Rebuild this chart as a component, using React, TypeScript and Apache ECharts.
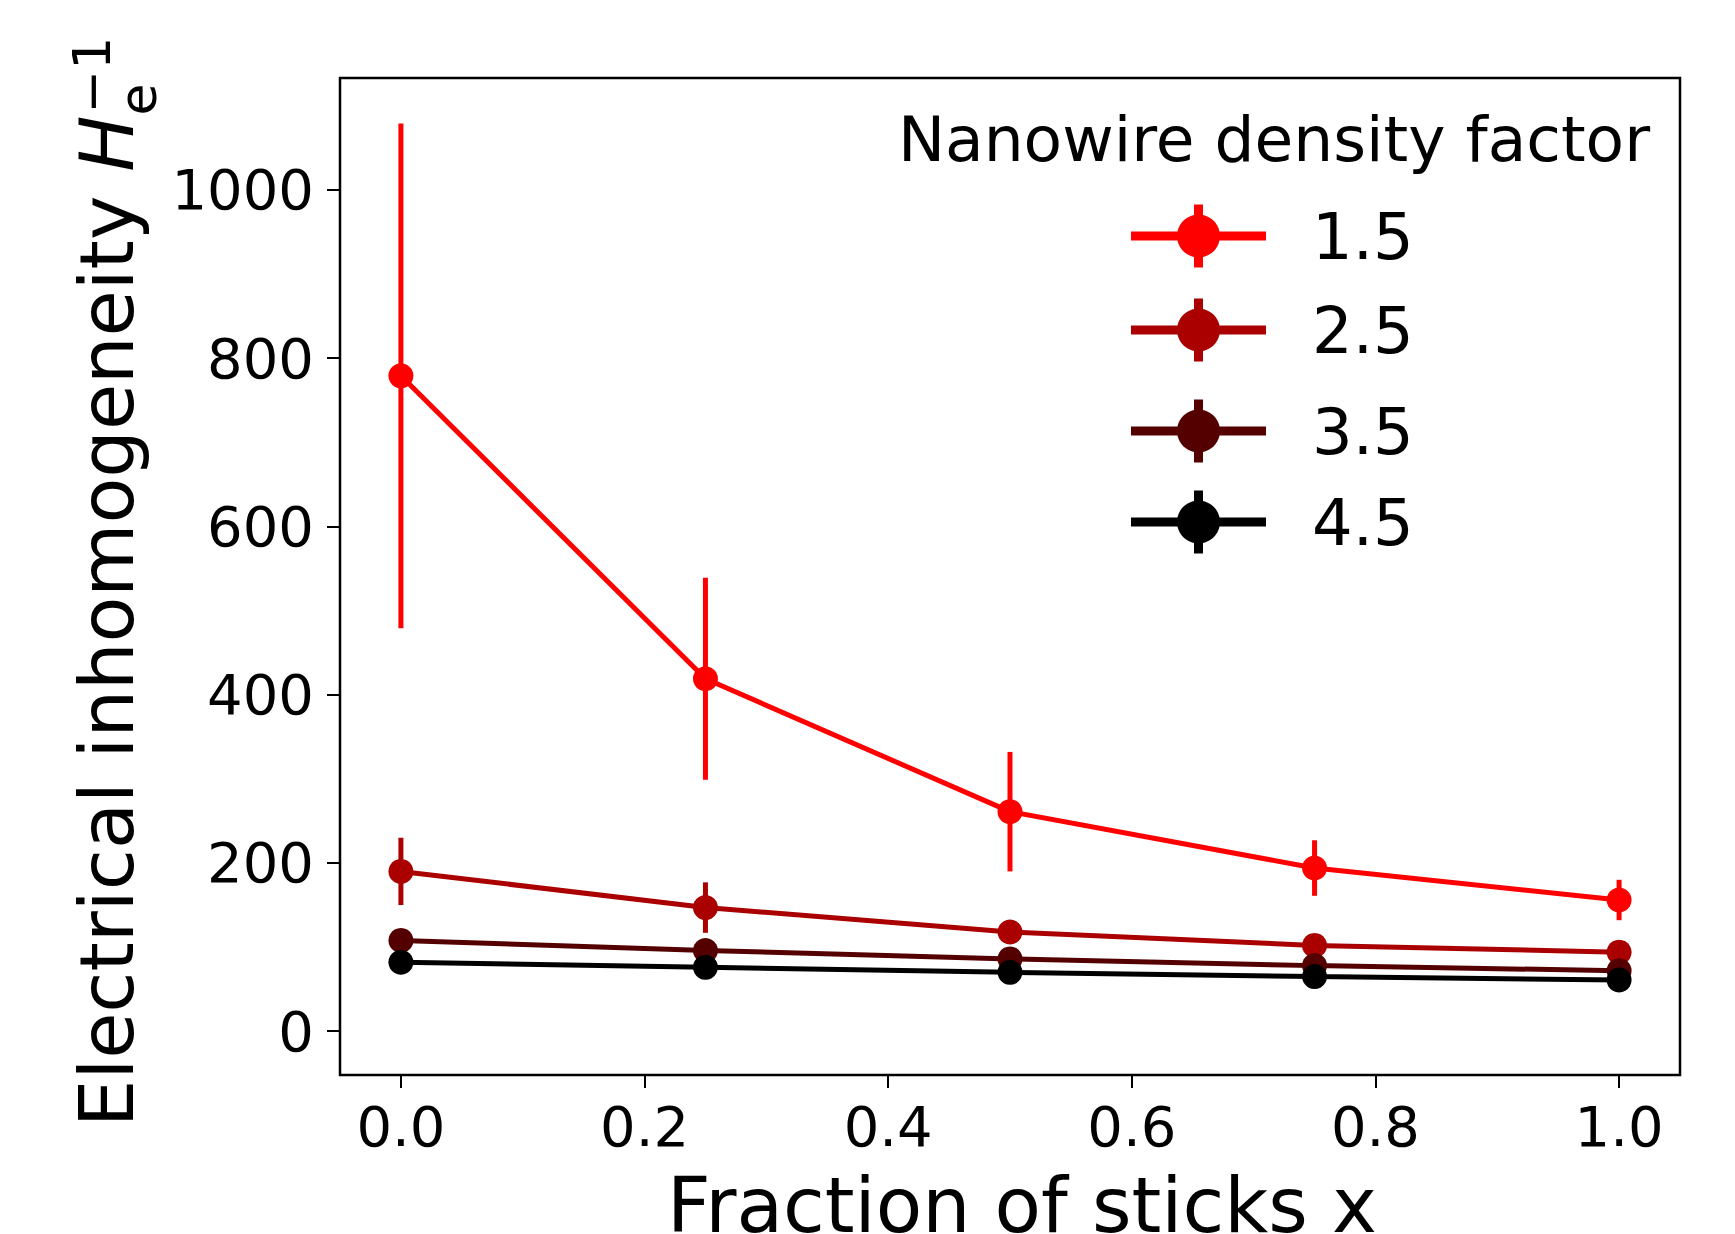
import React, { useEffect, useRef } from 'react';
import * as echarts from 'echarts';

// ---- data ----
const xValues = [0, 0.25, 0.5, 0.75, 1.0];
const densityFactors = ['1.5', '2.5', '3.5', '4.5'];
const seriesColors = ['#ff0000', '#aa0000', '#550000', '#000000'];

const inhom15 = [779, 419, 261, 194, 156];
const err15 = [300, 120, 71, 33, 24];
const inhom25 = [190, 147, 118, 102, 94];
const err25 = [40, 30, 10, 8, 7];
const inhom35 = [108, 96, 86, 78, 72];
const err35 = [8, 6, 5, 4, 4];
const inhom45 = [82, 76, 70, 65, 61];
const err45 = [5, 4, 4, 3, 3];

const xTicks = [0, 0.2, 0.4, 0.6, 0.8, 1.0];
const yTicks = [0, 200, 400, 600, 800, 1000];

const xTitle = 'Fraction of sticks x';
const yTitleMain = 'Electrical inhomogeneity ';
const legendTitle = 'Nanowire density factor';

const seriesValues = [inhom15, inhom25, inhom35, inhom45];
const seriesErrors = [err15, err25, err35, err45];

const FONT = 'DejaVu Sans';

function measure(text: string, font: string): number {
  const c = document.createElement('canvas').getContext('2d');
  if (!c) return text.length * 30;
  c.font = font;
  return c.measureText(text).width;
}

export default function App() {
  const ref = useRef<HTMLDivElement>(null);

  useEffect(() => {
    document.body.style.margin = '0';
    if (!ref.current) return;
    const chart = echarts.init(ref.current, undefined, { renderer: 'svg' });

    const series: any[] = [];
    densityFactors.forEach((name, i) => {
      const color = seriesColors[i];
      const vals = seriesValues[i];
      const errs = seriesErrors[i];
      series.push({
        type: 'custom',
        name: name + ' err',
        z: 2 + i * 2,
        silent: true,
        data: xValues.map((x, k) => [x, vals[k] - errs[k], vals[k] + errs[k]]),
        encode: { x: 0, y: [1, 2] },
        renderItem: (params: any, api: any) => {
          const x = api.value(0);
          const p1 = api.coord([x, api.value(1)]);
          const p2 = api.coord([x, api.value(2)]);
          return {
            type: 'line',
            shape: { x1: p1[0], y1: p1[1], x2: p2[0], y2: p2[1] },
            style: { stroke: color, lineWidth: 5 },
          };
        },
      });
      series.push({
        type: 'line',
        name,
        z: 3 + i * 2,
        silent: true,
        data: xValues.map((x, k) => [x, vals[k]]),
        symbol: 'circle',
        symbolSize: 25,
        showSymbol: true,
        itemStyle: { color },
        lineStyle: { color, width: 5 },
        emphasis: { disabled: true },
      });
    });

    // legend graphic
    const legendRowsY = [236, 330, 431, 522];
    const legendChildren: any[] = [];
    legendChildren.push({
      type: 'text',
      x: 1274,
      y: 139,
      style: {
        text: legendTitle,
        fontSize: 63,
        fontFamily: FONT,
        fill: '#000',
        align: 'center',
        verticalAlign: 'middle',
      },
    });
    densityFactors.forEach((name, i) => {
      const y = legendRowsY[i];
      const color = seriesColors[i];
      legendChildren.push({
        type: 'line',
        shape: { x1: 1131, y1: y, x2: 1266, y2: y },
        style: { stroke: color, lineWidth: 9 },
      });
      legendChildren.push({
        type: 'line',
        shape: { x1: 1198.5, y1: y - 31.5, x2: 1198.5, y2: y + 31.5 },
        style: { stroke: color, lineWidth: 9 },
      });
      legendChildren.push({
        type: 'circle',
        shape: { cx: 1198.5, cy: y, r: 21.5 },
        style: { fill: color },
      });
      legendChildren.push({
        type: 'text',
        x: 1312,
        y: y + 1,
        style: {
          text: name,
          fontSize: 64,
          fontFamily: FONT,
          fill: '#000',
          align: 'left',
          verticalAlign: 'middle',
        },
      });
    });

    // y axis title (rotated, with sub/superscript)
    const yFs = 75;
    const subFs = 52;
    const mainW = measure(yTitleMain, `${yFs}px "${FONT}"`);
    const hW = measure('H', `italic ${yFs}px "${FONT}"`);
    const yTitle = {
      type: 'group',
      x: 133,
      y: 1127,
      rotation: Math.PI / 2,
      children: [
        {
          type: 'text',
          x: 0,
          y: -0.346 * yFs,
          style: { text: yTitleMain, fontSize: yFs, fontFamily: FONT, fill: '#000', align: 'left', verticalAlign: 'middle' },
        },
        {
          type: 'text',
          x: mainW,
          y: -0.346 * yFs,
          style: { text: 'H', fontSize: yFs, fontStyle: 'italic', fontFamily: FONT, fill: '#000', align: 'left', verticalAlign: 'middle' },
        },
        {
          type: 'text',
          x: mainW + hW,
          y: 23 - 0.346 * subFs,
          style: { text: 'e', fontSize: subFs, fontFamily: FONT, fill: '#000', align: 'left', verticalAlign: 'middle' },
        },
        {
          type: 'text',
          x: mainW + hW + 2,
          y: -23 - 0.346 * subFs,
          style: { text: '\u22121', fontSize: subFs, fontFamily: FONT, fill: '#000', align: 'left', verticalAlign: 'middle' },
        },
      ],
    };

    const xTitleEl = {
      type: 'text',
      x: 1022,
      y: 1232 - 0.346 * 76,
      style: { text: xTitle, fontSize: 76, fontFamily: FONT, fill: '#000', align: 'center', verticalAlign: 'middle' },
    };

    const option: any = {
      animation: false,
      backgroundColor: '#ffffff',
      grid: {
        left: 340,
        right: 55,
        top: 78,
        bottom: 159,
        show: true,
        borderColor: '#000',
        borderWidth: 2.5,
        backgroundColor: 'transparent',
        containLabel: false,
        outerBoundsMode: 'none',
      },
      xAxis: {
        type: 'value',
        min: -0.05,
        max: 1.05,
        axisLine: { show: false, onZero: false },
        splitLine: { show: false },
        axisTick: { show: true, inside: false, length: 13, lineStyle: { color: '#000', width: 2 }, customValues: xTicks },
        axisLabel: {
          customValues: xTicks,
          formatter: (v: number) => v.toFixed(1),
          fontSize: 56,
          fontFamily: FONT,
          color: '#000',
          margin: 23,
        },
      },
      yAxis: {
        type: 'value',
        min: -52,
        max: 1133,
        axisLine: { show: false, onZero: false },
        splitLine: { show: false },
        axisTick: { show: true, inside: false, length: 13, lineStyle: { color: '#000', width: 2 }, customValues: yTicks },
        axisLabel: {
          customValues: yTicks,
          formatter: (v: number) => String(v),
          fontSize: 56,
          fontFamily: FONT,
          color: '#000',
          margin: 26,
        },
      },
      series,
      graphic: [...legendChildren, yTitle, xTitleEl],
    };

    chart.setOption(option);
    return () => chart.dispose();
  }, []);

  return <div ref={ref} style={{ width: 1735, height: 1234 }} />;
}
